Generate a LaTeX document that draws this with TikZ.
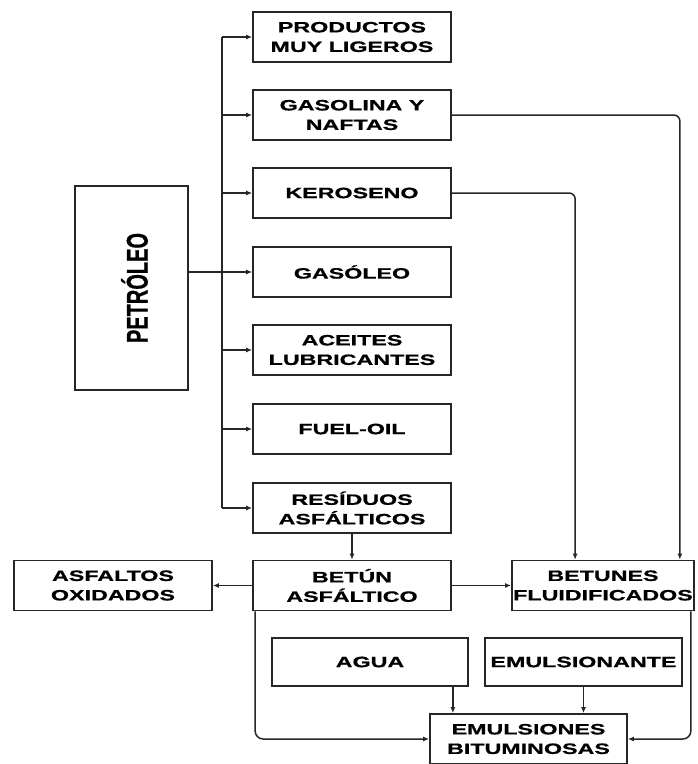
\documentclass[tikz,border=0pt]{standalone}
\usepackage{fontspec}
\setmainfont{Liberation Sans}[FakeBold=0.8]
\newfontfamily\cajafont{Liberation Sans}[FakeStretch=1.55,FakeBold=0.8]
\usepackage{tikz}
\usetikzlibrary{arrows.meta}

\tikzset{
	caja/.style={draw=black!85,line width=1.7pt,minimum width=198pt,minimum height=50pt,
		inner sep=0pt,align=center,font=\cajafont\bfseries\fontsize{15}{19.5}\selectfont},
	flecha/.style={draw=black!85,line width=1.5pt,-{Latex[length=6pt,width=5pt]}},
	linea/.style={draw=black!85,line width=1.5pt}
}

\begin{document}
\begin{tikzpicture}[x=1pt,y=-1pt]
			\useasboundingbox (0,0) rectangle (698,764);
			
			% petroleo
			
			\node[draw=black!85,line width=1.7pt,minimum width=113pt,minimum height=204pt,inner sep=0pt] (P) at (131.5,288) {};
			\node[rotate=90,font=\bfseries\fontsize{20}{24}\selectfont] (Ptxt) at ([xshift=3pt]P.center) {\scalebox{1}[1.5]{PETRÓLEO}};
			
			% fracciones
			
			\node[caja] (F1) at (352,37) {PRODUCTOS\\MUY LIGEROS};
			\node[caja] (F2) at (352,115) {GASOLINA Y\\NAFTAS};
			\node[caja] (F3) at (352,193) {KEROSENO};
			\node[caja] (F4) at (352,272) {GASÓLEO};
			\node[caja] (F5) at (352,350) {ACEITES\\LUBRICANTES};
			\node[caja] (F6) at (352,429) {FUEL-OIL};
			\node[caja] (F7) at (352,508) {RESÍDUOS\\ASFÁLTICOS};
			
			\coordinate (T) at (222,0);
			\draw[linea] (T |- F1.west) -- (T |- F7.west);
			\foreach \i in {1,...,7} {
				\draw[flecha] (T |- F\i.west) -- (F\i.west);
			}
			\draw[linea] (P.east |- F4.west) -- (T |- F4.west);
			
			% betunes
			
			\node[caja] (B1) at (113,585.5) {ASFALTOS\\OXIDADOS};
			\node[caja] (B2) at (352,585.5) {BETÚN\\ASFÁLTICO};
			\node[caja,minimum width=182pt] (B3) at (603,585.5) {BETUNES\\FLUIDIFICADOS};
			\draw[flecha] (F7.south) -- (B2.north);
			\draw[flecha] (B2.west) -- (B1.east);
			\draw[flecha] (B2.east) -- (B3.west);
			\draw[flecha,rounded corners=6pt] (F2.east) -| ([xshift=-15pt]B3.north east);
			\draw[flecha,rounded corners=6pt] (F3.east) -| ([xshift=64pt]B3.north west);
			
			% emulsiones
			
			\node[caja,minimum width=196pt,minimum height=48pt] (A) at (370,662) {AGUA};
			\node[caja,minimum width=197pt,minimum height=48pt] (E) at (583.5,662) {EMULSIONANTE};
			\node[caja,minimum width=197pt] (M) at (528.5,739) {EMULSIONES\\BITUMINOSAS};
			\draw[flecha] ([xshift=-16pt]A.south east) -- ([xshift=-16pt]A.south east |- M.north);
			\draw[flecha] (E.south) -- (E.south |- M.north);
			\draw[flecha,rounded corners=8pt] ([xshift=3pt]B2.south west) |- (M.west);
			\draw[flecha,rounded corners=8pt] ([xshift=-4pt]B3.south east) |- (M.east);
		\end{tikzpicture}
\end{document}
